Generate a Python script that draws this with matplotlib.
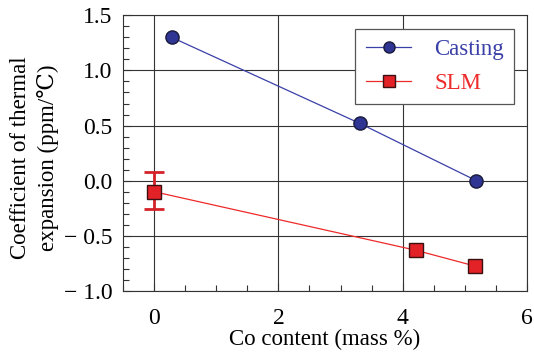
import matplotlib
matplotlib.use("Agg")
import matplotlib.pyplot as plt
from matplotlib.ticker import MultipleLocator, FuncFormatter

plt.rcParams['font.family'] = ['Liberation Serif', 'DejaVu Serif']

cast_x = [0.28, 3.31, 5.19]
cast_y = [1.30, 0.52, 0.0]
slm_x = [0.0, 4.21, 5.175]
slm_y = [-0.10, -0.63, -0.775]
slm_err_lo = [0.155, 0.0, 0.0]
slm_err_hi = [0.175, 0.0, 0.0]

W, H = 534, 353
fig = plt.figure(figsize=(W/100, H/100), dpi=100)
L, R, T, B = 123.3, 526.7, 15.3, 291
ax = fig.add_axes([L/W, 1 - B/H, (R-L)/W, (B-T)/H])

blue = '#3a40a8'
red = '#ee2a2a'
ax.plot(cast_x, cast_y, '-', color=blue, lw=0.9, marker='o', ms=9.5,
        mfc='#2e3592', mec='#1a1a3a', mew=1.0, label='Casting', zorder=3)
ax.plot(slm_x, slm_y, '-', color=red, lw=0.9, marker='s', ms=10,
        mfc='#e32228', mec='#3a1010', mew=1.0, label='SLM', zorder=3)
ax.errorbar(slm_x[:1], slm_y[:1], yerr=[slm_err_lo[:1], slm_err_hi[:1]], fmt='none',
            ecolor='#d42228', elinewidth=2, capsize=7, capthick=2, zorder=2)

ax.set_xlim(-0.5, 6)
ax.set_ylim(-1.0, 1.5)
ax.xaxis.set_major_locator(MultipleLocator(2))
ax.xaxis.set_minor_locator(MultipleLocator(0.5))
ax.yaxis.set_major_locator(MultipleLocator(0.5))
ax.yaxis.set_minor_locator(MultipleLocator(0.1))
ax.yaxis.set_major_formatter(FuncFormatter(
    lambda v, p: ('\u2212 ' if v < -1e-9 else '') + f'{abs(v):.1f}'))
ax.tick_params(which='both', direction='in', top=False, right=False,
               labelsize=17, color='#333333')
ax.tick_params(axis='y', which='major', length=6, width=0.8, pad=8)
ax.tick_params(axis='x', which='major', length=6, width=0.8, pad=12)
ax.tick_params(which='minor', length=4, width=0.8)
ax.grid(True, which='major', color='#333333', lw=0.8)
for s in ax.spines.values():
    s.set_color('#333333')
    s.set_linewidth(0.8)

fig.text((L + R) / 2 / W, 1 - 345/H, 'Co content (mass %)', fontsize=16.5,
         ha='center', va='baseline')
fig.text(21/W, 1 - 158/H, 'Coefficient of thermal', fontsize=16.5,
         rotation=90, ha='center', va='center')
fig.text(48/W, 1 - 158/H, 'expansion (ppm/\u2103)', fontsize=16.5,
         rotation=90, ha='center', va='center')

leg = ax.legend(loc='upper right', bbox_to_anchor=((514.3-L)/(R-L), 1 - (29-T)/(B-T)),
                fontsize=16.5, fancybox=False, framealpha=1, edgecolor='#555555',
                handlelength=2.0, borderpad=0.45, labelspacing=0.55, handletextpad=1.0,
                borderaxespad=0)
leg.get_frame().set_linewidth(0.9)
for t, c in zip(leg.get_texts(), [blue, red]):
    t.set_color(c)
for h in leg.legend_handles:
    h.set_markersize(8)

fig.savefig('out.png', dpi=100)
